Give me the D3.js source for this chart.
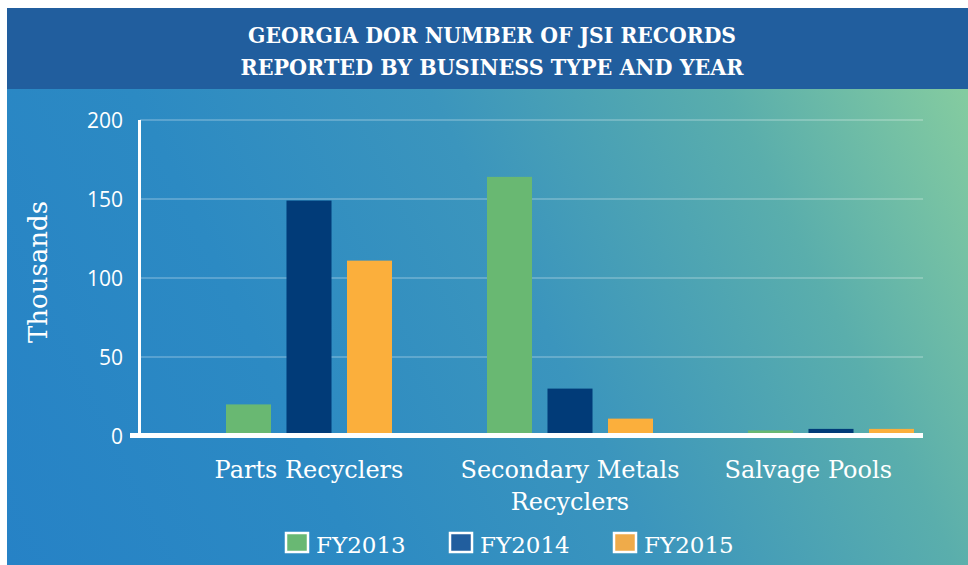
<!DOCTYPE html>
<html>
<head>
<meta charset="utf-8">
<script src="https://cdn.jsdelivr.net/npm/d3@7"></script>
<style>
	body { margin: 0; background: #fff; }
	svg { display: block; }
</style>
</head>
<body>
<script>
// data
var categories = ["Parts Recyclers", "Secondary Metals Recyclers", "Salvage Pools"];
var series = ["FY2013", "FY2014", "FY2015"];
var fy2013 = [20, 164, 3.5];
var fy2014 = [149, 30, 4.5];
var fy2015 = [111, 11, 4.5];
var yTicks = [0, 50, 100, 150, 200];
var titleLines = ["GEORGIA DOR NUMBER OF JSI RECORDS", "REPORTED BY BUSINESS TYPE AND YEAR"];

var W = 968, H = 565;
var values = { FY2013: fy2013, FY2014: fy2014, FY2015: fy2015 };
var barColor = { FY2013: "#69b872", FY2014: "#013b78", FY2015: "#fbaf3c" };
var keyColor = { FY2013: "#69b873", FY2014: "#215e9e", FY2015: "#efab4a" };
var serif = "'DejaVu Serif', serif";

var svg = d3.select("body").append("svg").attr("width", W).attr("height", H);

// background //{{{
var defs = svg.append("defs");
var grad = defs.append("linearGradient").attr("id", "bg")
	.attr("gradientUnits", "userSpaceOnUse")
	.attr("x1", 7).attr("y1", 565).attr("x2", 968).attr("y2", 100);
grad.append("stop").attr("offset", 0).attr("stop-color", "#2682c6");
grad.append("stop").attr("offset", 0.3).attr("stop-color", "#2c8ac3");
grad.append("stop").attr("offset", 0.55).attr("stop-color", "#3b95bd");
grad.append("stop").attr("offset", 0.8).attr("stop-color", "#5aaeac");
grad.append("stop").attr("offset", 1).attr("stop-color", "#84cba0");

svg.append("rect").attr("x", 7).attr("y", 8).attr("width", W - 7).attr("height", H - 8).attr("fill", "url(#bg)");
svg.append("rect").attr("x", 7).attr("y", 8).attr("width", W - 7).attr("height", 81).attr("fill", "#215e9e");

svg.selectAll("text.title").data(titleLines).enter().append("text")
	.attr("class", "title")
	.attr("x", 492)
	.attr("y", function(d, i) { return 43 + i * 32; })
	.attr("text-anchor", "middle")
	.attr("textLength", function(d, i) { return i == 0 ? 488 : 503; })
	.attr("lengthAdjust", "spacingAndGlyphs")
	.attr("fill", "#fff")
	.style("font-family", "'DejaVu Serif Condensed', 'DejaVu Serif', serif")
	.style("font-weight", "bold")
	.style("font-size", "22px")
	.text(function(d) { return d; });
//}}}

// scales //{{{
var plot = { left: 140, right: 923, top: 120, bottom: 436 };
var y = d3.scaleLinear().domain([0, 200]).range([plot.bottom, plot.top]);
var x0 = d3.scaleBand().domain(categories).range([plot.left, plot.right]);
var x1 = d3.scaleBand().domain(series).range([86, 252]).paddingInner(0.256);
//}}}

// grid + y labels //{{{
svg.append("g").selectAll("line").data(yTicks.filter(function(d) { return d > 0; })).enter().append("line")
	.attr("x1", plot.left).attr("x2", plot.right)
	.attr("y1", function(d) { return y(d); }).attr("y2", function(d) { return y(d); })
	.attr("stroke", "#fff").attr("stroke-opacity", 0.22).attr("stroke-width", 2);

svg.append("g").selectAll("text").data(yTicks).enter().append("text")
	.attr("x", 123)
	.attr("y", function(d) { return y(d); })
	.attr("dy", "0.36em")
	.attr("text-anchor", "end")
	.attr("fill", "#fff")
	.style("font-family", "'Open Sans', sans-serif")
	.style("font-size", "21px")
	.text(function(d) { return d; });

svg.append("text")
	.attr("transform", "translate(47,272) rotate(-90)")
	.attr("text-anchor", "middle")
	.attr("fill", "#fff")
	.style("font-family", serif)
	.style("font-size", "26px")
	.text("Thousands");
//}}}

// bars //{{{
var groups = svg.append("g").selectAll("g").data(categories).enter().append("g")
	.attr("transform", function(d) { return "translate(" + x0(d) + ",0)"; });

groups.selectAll("rect").data(function(c, ci) {
		return series.map(function(s) { return { s: s, v: values[s][ci] }; });
	}).enter().append("rect")
	.attr("x", function(d) { return x1(d.s); })
	.attr("width", x1.bandwidth())
	.attr("y", function(d) { return y(d.v); })
	.attr("height", function(d) { return y(0) - y(d.v); })
	.attr("fill", function(d) { return barColor[d.s]; });
//}}}

// axes lines //{{{
svg.append("line").attr("x1", 139.5).attr("x2", 139.5).attr("y1", plot.top).attr("y2", plot.bottom)
	.attr("stroke", "#fff").attr("stroke-width", 3);
svg.append("line").attr("x1", 130).attr("x2", plot.right).attr("y1", 435.5).attr("y2", 435.5)
	.attr("stroke", "#fff").attr("stroke-width", 5);
//}}}

// category labels //{{{
var catText = svg.append("g").selectAll("text").data(categories).enter().append("text")
	.attr("text-anchor", "middle")
	.attr("fill", "#fff")
	.style("font-family", serif)
	.style("font-size", "24px");

catText.each(function(d) {
	var t = d3.select(this);
	var lines = d == "Secondary Metals Recyclers" ? ["Secondary Metals", "Recyclers"] : [d];
	lines.forEach(function(l, i) {
		t.append("tspan").attr("dy", i == 0 ? 0 : 32).text(l);
	});
	var w = this.getBBox().width;
	var cx = x0(d) + 86 + 83;
	cx = Math.min(cx, plot.right - 31 - w / 2);
	t.attr("y", 478);
	t.selectAll("tspan").attr("x", cx);
});
//}}}

// legend //{{{
var leg = svg.append("g").selectAll("g").data(series).enter().append("g")
	.attr("transform", function(d, i) { return "translate(" + (286 + i * 164) + ",533)"; });
leg.append("rect").attr("width", 22).attr("height", 19)
	.attr("fill", function(d) { return keyColor[d]; })
	.attr("stroke", "#fff").attr("stroke-width", 2.5);
leg.append("text").attr("x", 30).attr("y", 20)
	.attr("fill", "#fff")
	.style("font-family", serif)
	.style("font-size", "23px")
	.text(function(d) { return d; });
//}}}
</script>
</body>
</html>
